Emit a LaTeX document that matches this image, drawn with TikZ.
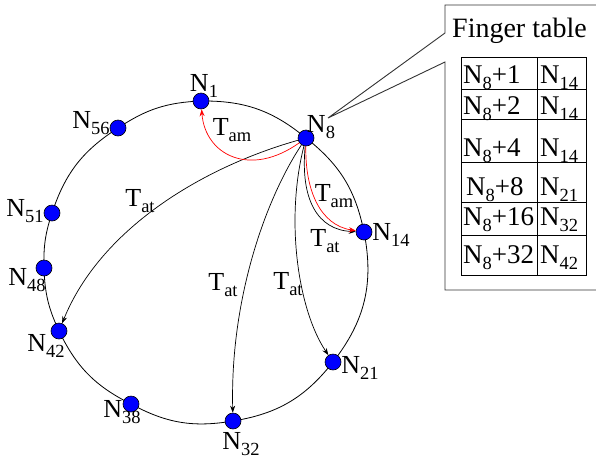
\documentclass[tikz,border=0pt]{standalone}
\usepackage{fontspec}
\setmainfont{Liberation Serif}
\newfontfamily\tnr{Liberation Serif}
\usetikzlibrary{arrows.meta,backgrounds}
\newcommand\lw[1]{\raisebox{-0.25em}{\fontsize{18.5}{18.5}\selectfont #1}}
\begin{document}
\begin{tikzpicture}[x=1pt,y=-1pt,
  dot/.style={circle,draw=black,line width=0.6pt,fill=blue,inner sep=0pt,minimum size=16pt},
  lbl/.style={font=\tnr\fontsize{26}{26}\selectfont,inner sep=0pt},
  tab/.style={font=\tnr\fontsize{27}{27}\selectfont,inner sep=0pt,anchor=base west},
  ring/.style={line width=0.8pt},
  arr/.style={line width=0.7pt,-{Stealth[length=7pt,width=5pt]}},
  redarr/.style={arr,red},
  frame/.style={line width=0.9pt,draw=black!80}]
\useasboundingbox (0,0) rectangle (596,461);
% ring nodes
\node[dot] (n1) at (201,101) {};
\node[dot] (n8) at (306,138) {};
\node[dot] (n14) at (364,232) {};
\node[dot] (n21) at (333,362) {};
\node[dot] (n32) at (233,421) {};
\node[dot] (n38) at (131,404) {};
\node[dot] (n42) at (59,331) {};
\node[dot] (n48) at (44,268) {};
\node[dot] (n51) at (52,213) {};
\node[dot] (n56) at (118,128) {};
\begin{pgfonlayer}{background}
\draw[ring] (n1.center) to[bend left=20] (n8.center) to[bend left=20] (n14.center)
  to[bend left=24.5] (n21.center) to[bend left=21.3] (n32.center)
  to[bend left=19] (n38.center) to[bend left=18.7] (n42.center)
  to[bend left=11.6] (n48.center) to[bend left=9.9] (n51.center)
  to[bend left=19.4] (n56.center) to[bend left=15.6] (n1.center);
\end{pgfonlayer}
% node labels
\node[lbl] (l1) at (204,86) {N\lw{1}};
\node[lbl] (l8) at (321,127) {N\lw{8}};
\node[lbl] (l14) at (391,235) {N\lw{14}};
\node[lbl] (l21) at (360,368) {N\lw{21}};
\node[lbl] (l32) at (241,444) {N\lw{32}};
\node[lbl] (l38) at (122,412) {N\lw{38}};
\node[lbl] (l42) at (46,346) {N\lw{42}};
\node[lbl] (l48) at (27,280) {N\lw{48}};
\node[lbl] (l51) at (25,211) {N\lw{51}};
\node[lbl] (l56) at (91,123) {N\lw{56}};
% arrows
\draw[arr] (n8) .. controls (200,168) and (100,230) .. (n42);
\draw[arr] (n8) .. controls (265,200) and (230,300) .. (n32);
\draw[arr] (n8) .. controls (285,220) and (298,310) .. (n21);
\draw[arr] (n8) .. controls (300,200) and (318,230) .. (n14);
\draw[redarr] (n8) .. controls (305,190) and (320,225) .. (n14);
\draw[redarr] (n8) .. controls (250,178) and (205,155) .. (n1);
% arrow labels
\node[lbl] (tam1) at (232,130) {T\lw{am}};
\node[lbl] (tam2) at (334,196) {T\lw{am}};
\node[lbl] (tat14) at (325,241) {T\lw{at}};
\node[lbl] (tat21) at (288,284) {T\lw{at}};
\node[lbl] (tat32) at (223,285) {T\lw{at}};
\node[lbl] (tat42) at (140,201) {T\lw{at}};
% callout
\coordinate (cp) at (328,118);
\draw[frame] (600,5) -- (445,5) -- (445,33) -- (cp) -- (445,62) -- (445,290) -- (600,290);
\node[font=\tnr\fontsize{28}{28}\selectfont,inner sep=0pt,anchor=base west] (ft) at (452,37) {Finger table};
% table
\draw[line width=0.9pt] (461,57) rectangle (586,275);
\draw[line width=0.9pt] (537,57) -- (537,275);
\foreach \yy in {89,119,162,202,235} \draw[line width=0.9pt] (461,\yy) -- (586,\yy);
\node[tab] (a1) at (463,83) {N\lw{8}+1};
\node[tab] (a2) at (463,114) {N\lw{8}+2};
\node[tab] (a3) at (463,156) {N\lw{8}+4};
\node[tab] (a4) at (466,195) {N\lw{8}+8};
\node[tab] (a5) at (463,225) {N\lw{8}+16};
\node[tab] (a6) at (463,263) {N\lw{8}+32};
\node[tab] (b1) at (540,83) {N\lw{14}};
\node[tab] (b2) at (540,114) {N\lw{14}};
\node[tab] (b3) at (540,156) {N\lw{14}};
\node[tab] (b4) at (540,195) {N\lw{21}};
\node[tab] (b5) at (540,225) {N\lw{32}};
\node[tab] (b6) at (540,263) {N\lw{42}};
\end{tikzpicture}
\end{document}
